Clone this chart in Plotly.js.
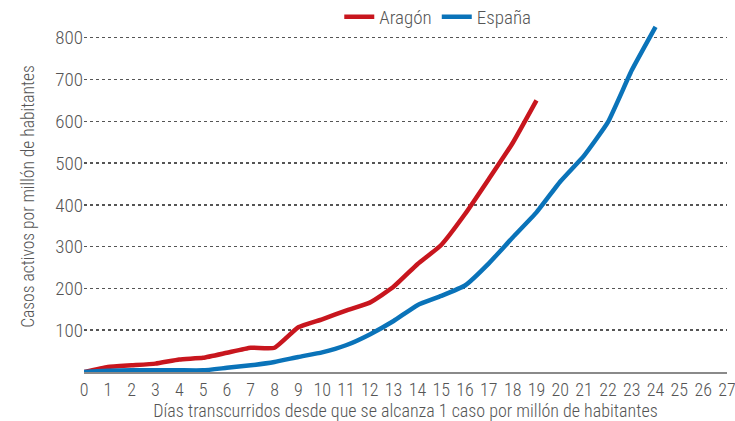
<!DOCTYPE html>
<html>
<head>
<meta charset="utf-8">
<script src="https://cdn.plot.ly/plotly-3.0.1.min.js"></script>
<style>html,body{margin:0;padding:0;background:#fff;}#chart{width:735px;height:421px;}</style>
</head>
<body>
<div id="chart"></div>
<script>
const daysAragon = [0,1,2,3,4,5,6,7,8,9,10,11,12,13,14,15,16,17,18,19];
const aragon = [0,12,16,20,30,34,46,58,58,107,126,147,166,204,258,304,378,462,548,650];
const daysEspana = [0,1,2,3,4,5,6,7,8,9,10,11,12,13,14,15,16,17,18,19,20,21,22,23,24];
const espana = [0,3,4,4,4,4,10,16,24,36,47,64,90,122,160,182,207,260,322,382,456,518,598,722,826];
const xTicks = [0,1,2,3,4,5,6,7,8,9,10,11,12,13,14,15,16,17,18,19,20,21,22,23,24,25,26,27];
const yTicks = [100,200,300,400,500,600,700,800];

const FONT = '"Roboto Condensed", "DejaVu Sans Condensed", sans-serif';
const TXT = '#555555';
const W = 300;

const traces = [
  {x: daysAragon, y: aragon, name: 'Aragón', type: 'scatter', mode: 'lines',
   line: {color: '#c8161e', width: 4.5, shape: 'spline', smoothing: 0.4}},
  {x: daysEspana, y: espana, name: 'España', type: 'scatter', mode: 'lines',
   line: {color: '#0a73b9', width: 4.5, shape: 'spline', smoothing: 0.4}}
];

const layout = {
  width: 735, height: 421,
  margin: {l: 84, r: 8, t: 21, b: 49, autoexpand: false},
  paper_bgcolor: '#fff', plot_bgcolor: '#fff',
  font: {family: FONT, color: TXT, size: 18, weight: W},
  showlegend: true,
  legend: {orientation: 'h', x: 0.397, xanchor: 'left', y: 1.012, yanchor: 'middle',
           font: {family: FONT, size: 19, color: TXT, weight: W}, bgcolor: 'rgba(0,0,0,0)',
           itemwidth: 30, tracegroupgap: 0},
  xaxis: {range: [0, 27], tickvals: xTicks, ticktext: xTicks.map(String),
          showgrid: false, zeroline: false, showline: true, linecolor: '#8a8a8a', linewidth: 2,
          ticks: '', ticklabeloverflow: 'allow',
          tickfont: {family: FONT, size: 18, color: TXT, weight: W},
          title: {text: 'Días transcurridos desde que se alcanza 1 caso por millón de habitantes',
                  font: {family: FONT, size: 18, color: TXT, weight: W}, standoff: 4},
          fixedrange: true, automargin: false},
  yaxis: {range: [0, 840], tickvals: yTicks, ticktext: yTicks.map(String),
          showgrid: true, gridcolor: '#555', griddash: 'dot', gridwidth: 1.5,
          zeroline: false, showline: false, ticks: '',
          tickfont: {family: FONT, size: 19, color: TXT, weight: W},
          title: {text: 'Casos activos por millón de habitantes',
                  font: {family: FONT, size: 17.5, color: TXT, weight: W}, standoff: 16},
          fixedrange: true, automargin: false}
};

Plotly.newPlot('chart', traces, layout, {staticPlot: true, displayModeBar: false});
</script>
</body>
</html>
